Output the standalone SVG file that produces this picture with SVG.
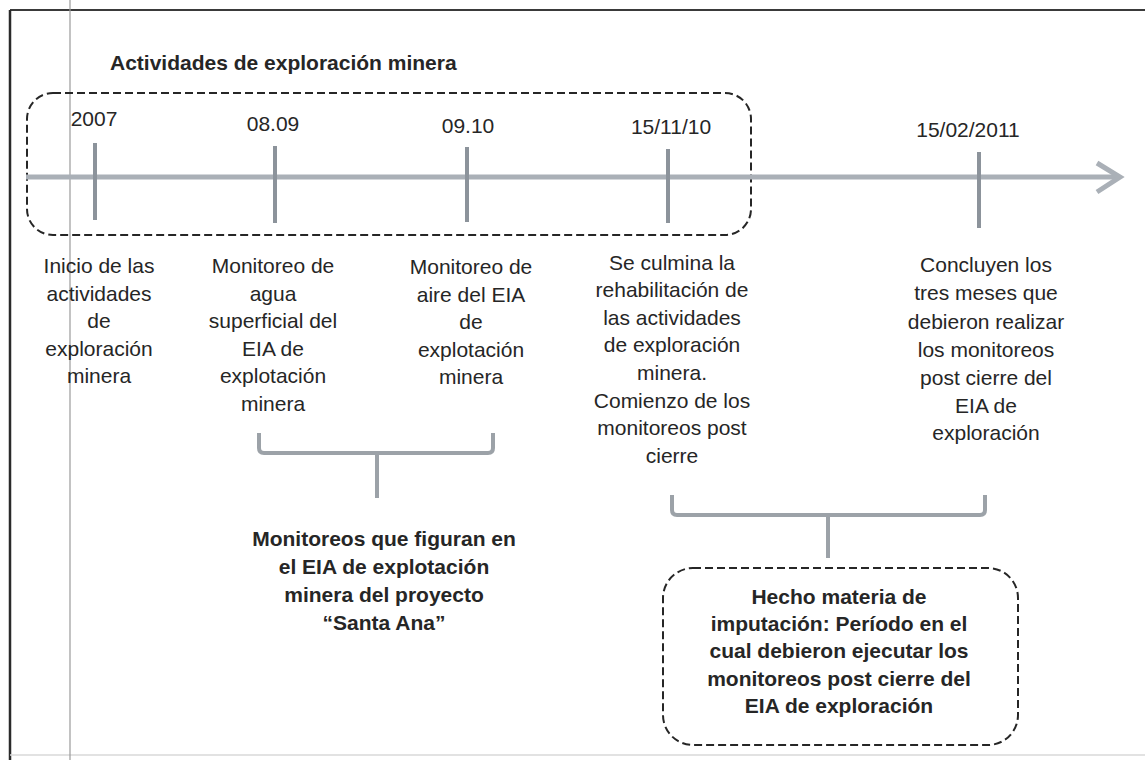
<svg xmlns="http://www.w3.org/2000/svg" width="1145" height="760" viewBox="0 0 1145 760">
<style>
.t{font-family:"Liberation Sans",Arial,sans-serif;font-size:21px;fill:#262626;text-anchor:middle}
.b{font-weight:bold}
.dash{fill:none;stroke:#262626;stroke-width:2;stroke-dasharray:8 4}
.axis{stroke:#aab0b7;stroke-width:5;fill:none}
.tick{stroke:#8c939b;stroke-width:4}
.br{fill:none;stroke:#9ca2a8;stroke-width:4;stroke-linejoin:round}
</style>
<rect width="1145" height="760" fill="#ffffff"/>
<g id="frame">
<line x1="10" y1="10" x2="1145" y2="10" stroke="#3a3a3a" stroke-width="2"/>
<line x1="10" y1="10" x2="10" y2="760" stroke="#2a2a2a" stroke-width="2.5"/>
<line x1="10" y1="755" x2="1145" y2="755" stroke="#d8d8d8" stroke-width="1.5"/>
<line x1="70" y1="0" x2="70" y2="760" stroke="#9a9a9a" stroke-width="1.2"/>
</g>
<text id="title" class="t b" x="110" y="70" style="text-anchor:start">Actividades de exploración minera</text>
<rect id="group-exploracion" class="dash" x="27" y="93" width="724" height="142" rx="26"/>
<g id="connectors">
<line class="axis" x1="26" y1="177" x2="1118" y2="177"/>
<polyline class="axis" points="1097,163 1120,177 1097,192" stroke-linejoin="miter"/>
<path class="br" d="M259,433 V448 Q259,453 264,453 H488 Q493,453 493,448 V433 M377,453 V498"/>
<path class="br" d="M672,495 V510 Q672,515 677,515 H980 Q985,515 985,510 V495 M828,515 V558"/>
</g>
<g id="e2007">
<line class="tick" x1="95" y1="143" x2="95" y2="220"/>
<text class="t" x="94" y="126">2007</text>
<text class="t"><tspan x="99" y="273">Inicio de las</tspan><tspan x="99" y="301">actividades</tspan><tspan x="99" y="328">de</tspan><tspan x="99" y="356">exploración</tspan><tspan x="99" y="383">minera</tspan></text>
</g>
<g id="e0809">
<line class="tick" x1="275" y1="146" x2="275" y2="223"/>
<text class="t" x="273" y="131">08.09</text>
<text class="t"><tspan x="273" y="273">Monitoreo de</tspan><tspan x="273" y="301">agua</tspan><tspan x="273" y="328">superficial del</tspan><tspan x="273" y="356">EIA de</tspan><tspan x="273" y="383">explotación</tspan><tspan x="273" y="411">minera</tspan></text>
</g>
<g id="e0910">
<line class="tick" x1="467" y1="147" x2="467" y2="222"/>
<text class="t" x="468" y="133">09.10</text>
<text class="t"><tspan x="471" y="274">Monitoreo de</tspan><tspan x="471" y="302">aire del EIA</tspan><tspan x="471" y="329">de</tspan><tspan x="471" y="357">explotación</tspan><tspan x="471" y="384">minera</tspan></text>
</g>
<g id="e151110">
<line class="tick" x1="668" y1="149" x2="668" y2="223"/>
<text class="t" x="671" y="134">15/11/10</text>
<text class="t"><tspan x="672" y="270">Se culmina la</tspan><tspan x="672" y="297">rehabilitación de</tspan><tspan x="672" y="325">las actividades</tspan><tspan x="672" y="352">de exploración</tspan><tspan x="672" y="380">minera.</tspan><tspan x="672" y="408">Comienzo de los</tspan><tspan x="672" y="435">monitoreos post</tspan><tspan x="672" y="463">cierre</tspan></text>
</g>
<g id="e150211">
<line class="tick" x1="979" y1="152" x2="979" y2="228"/>
<text class="t" x="968" y="137">15/02/2011</text>
<text class="t"><tspan x="986" y="272">Concluyen los</tspan><tspan x="986" y="300">tres meses que</tspan><tspan x="986" y="329">debieron realizar</tspan><tspan x="986" y="357">los monitoreos</tspan><tspan x="986" y="385">post cierre del</tspan><tspan x="986" y="413">EIA de</tspan><tspan x="986" y="440">exploración</tspan></text>
</g>
<g id="monitoreos-eia">
<text class="t b"><tspan x="384" y="546">Monitoreos que figuran en</tspan><tspan x="384" y="574">el EIA de explotación</tspan><tspan x="384" y="602">minera del proyecto</tspan><tspan x="384" y="630">“Santa Ana”</tspan></text>
</g>
<g id="hecho-imputacion">
<rect class="dash" x="663" y="568" width="355" height="177" rx="30"/>
<text class="t b"><tspan x="839" y="604">Hecho materia de</tspan><tspan x="839" y="631">imputación: Período en el</tspan><tspan x="839" y="658">cual debieron ejecutar los</tspan><tspan x="839" y="686">monitoreos post cierre del</tspan><tspan x="839" y="713">EIA de exploración</tspan></text>
</g>
</svg>
